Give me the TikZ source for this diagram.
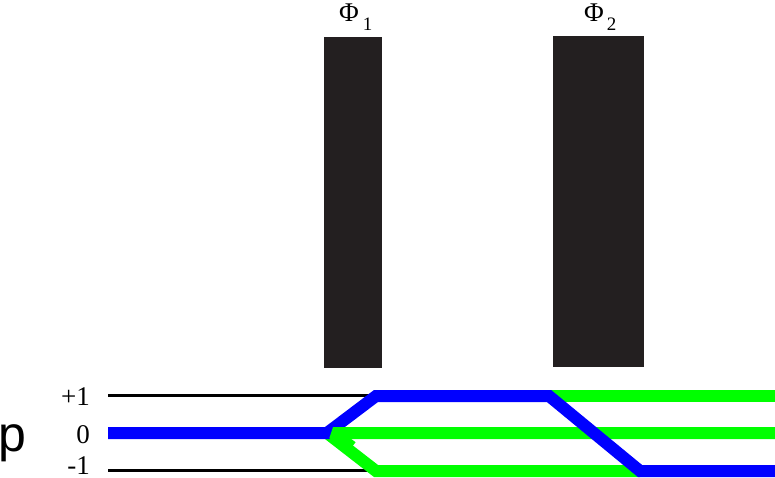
\documentclass[tikz,border=0pt]{standalone}
\usepackage{fontspec}
\setmainfont{Liberation Serif}
\newfontfamily\psans{Liberation Sans}
\definecolor{barcol}{HTML}{231F20}
\definecolor{gr}{HTML}{00FF00}
\definecolor{bl}{HTML}{0000FF}
\begin{document}
\begin{tikzpicture}[x=1pt,y=-1pt,
  bar/.style={fill=barcol,draw=none,inner sep=0pt,anchor=north west},
  level/.style={line width=3pt,black},
  beam/.style={line width=12pt,line join=miter},
  lab/.style={font=\fontsize{27}{27}\selectfont,inner sep=0pt,anchor=base east},
  phi/.style={font=\fontsize{27}{27}\selectfont,inner sep=0pt,anchor=base west}]
\useasboundingbox (0,0) rectangle (775,478);
% bars
\node[bar,minimum width=58pt,minimum height=331pt] (b1) at (324,37) {};
\node[bar,minimum width=91pt,minimum height=331pt] (b2) at (553,36) {};
\node[phi] (p1) at (339,22) {Φ\hspace{4pt}\raisebox{-9pt}{\fontsize{19}{19}\selectfont 1}};
\node[phi] (p2) at (584,22) {Φ\hspace{3pt}\raisebox{-9pt}{\fontsize{19}{19}\selectfont 2}};
% coordinates
\coordinate (Lp) at (108,395);
\coordinate (Lz) at (108,433);
\coordinate (Lm) at (108,470);
\coordinate (Ep) at (376,395);
\coordinate (Em) at (376,470);
\coordinate (J) at (327,433);
\coordinate (Up) at (376,396);
\coordinate (Dn) at (376,471);
\coordinate (S1) at (549,396);
\coordinate (S2) at (640,471);
\coordinate (Rp) at (775,396);
\coordinate (Rz) at (775,433);
\coordinate (Rm) at (775,471);
% level lines
\draw[level] (Lp) -- (Ep);
\draw[level] (Lm) -- (Em);
% labels
\node[lab] (lp) at (90,405) {+1};
\node[lab] (lz) at (90,443) {0};
\node[lab] (lm) at (90,474) {-1};
\node[font=\psans\fontsize{50}{50}\selectfont,inner sep=0pt,anchor=base west] (pp) at (-2,451) {p};
% green beams
\draw[beam,gr] (S1) -- (Rp);
\draw[beam,gr] (Rz) -- (J) -- (Dn) -- (S2);
% blue beam
\draw[beam,bl] (Lz) -- (J) -- (Up) -- (S1) -- (S2) -- (Rm);
% green over junction
\draw[beam,gr,line join=bevel] (350,433) -- (333,433) -- (352,447);
\end{tikzpicture}
\end{document}
